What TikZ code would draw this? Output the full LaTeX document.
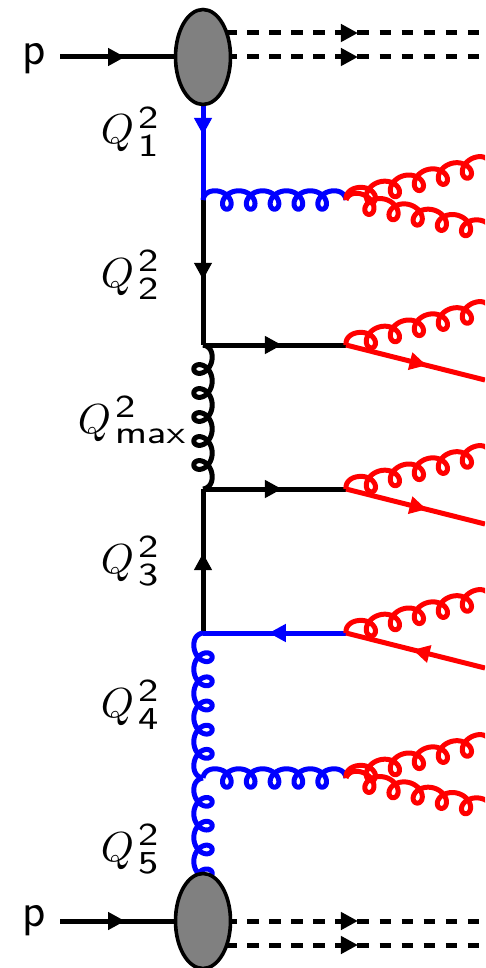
\documentclass[tikz,border=0pt]{standalone}
\usetikzlibrary{arrows.meta,calc,decorations.markings,shapes.geometric}
\DeclareMathSizes{10}{10}{8}{6}
\pgfdeclarelayer{front}
\pgfsetlayers{main,front}
\newcommand\qs[1]{\mbox{\kern1pt\scalebox{1.13}[0.95]{$\scriptstyle\mathsf{#1}$}}}
\newcommand\gluon[4][black]{%
  \pgfpointdiff{\pgfpointanchor{#2}{center}}{\pgfpointanchor{#3}{center}}%
  \pgfgetlastxy\gx\gy
  \pgfmathsetmacro\gL{veclen(\gx,\gy)}%
  \pgfmathsetmacro\gR{atan2(\gy,\gx)}%
  \pgfmathsetmacro\gs{\gL/#4}%
  \pgfmathsetmacro\gEnd{360*#4-90}%
  \pgfmathsetmacro\gN{int(40*#4)}%
  \begin{scope}[shift={(#2.center)},rotate=\gR]
    \draw[wire,#1] plot[domain=90:\gEnd,samples=\gN] ({\gs*(\x/360)-\gs*(0.4-0.15*(max(0,1-(\x-90)/90)+max(0,1-(\gEnd-\x)/90)))*sin(\x)},{9.2*cos(\x)});
  \end{scope}}
\tikzset{
  wire/.style={line width=5pt,line join=round},
  fine/.style={line width=5pt},
  dashline/.style={line width=5pt,dash pattern=on 11.5pt off 10.57pt},
  arrowat/.style={postaction={decorate},decoration={markings,mark=at position #1 with {\arrow{Triangle[length=17pt,width=17pt]}}}},
  blob/.style={ellipse,draw=black,fill=gray,line width=3.6pt,minimum width=55pt,minimum height=95pt,inner sep=0pt},
  qlabel/.style={anchor=base west,inner sep=0pt,scale=4.2},
  plabel/.style={anchor=base west,inner sep=0pt,font=\fontsize{48}{56}\selectfont\sffamily}
}
\begin{document}
\begin{tikzpicture}[x=1pt,y=-1pt]
\useasboundingbox (0,0) rectangle (485,968);
\clip (0,0) rectangle (485,968);
% blobs
\begin{pgfonlayer}{front}
\node[blob] (top) at (203,57) {};
\node[blob] (bot) at (203,921) {};
\end{pgfonlayer}
% vertices
\coordinate (v1) at (203,200);
\coordinate (v2) at (203,345);
\coordinate (v3) at (203,489);
\coordinate (v4) at (203,633);
\coordinate (v5) at (203,778);
\coordinate (w1) at (346,200);
\coordinate (w2) at (346,345);
\coordinate (w3) at (346,489);
\coordinate (w4) at (346,633);
\coordinate (w5) at (346,778);
% free ends
\coordinate (pa) at (60,57);
\coordinate (pb) at (60,921);
\coordinate (ta) at (203,33);
\coordinate (tb) at (490,33);
\coordinate (tc) at (490,57);
\coordinate (ba) at (203,945);
\coordinate (bb) at (490,945);
\coordinate (bc) at (490,921);
\coordinate (r1a) at (490,163);
\coordinate (r1b) at (491,232);
\coordinate (r2a) at (490,308);
\coordinate (r2b) at (485,380);
\coordinate (r3a) at (490,452);
\coordinate (r3b) at (485,524);
\coordinate (r4a) at (490,596);
\coordinate (r4b) at (485,668);
\coordinate (r5a) at (490,741);
\coordinate (r5b) at (491,810);
% labels
\node[plabel] (lp1) at (22,65) {p};
\node[plabel] (lp2) at (22,926) {p};
\node[qlabel] (q1) at (100,144) {$Q_{\qs{1}}^{\qs{2}}$};
\node[qlabel] (q2) at (100,287) {$Q_{\qs{2}}^{\qs{2}}$};
\node[qlabel] (qm) at (77,433) {$Q_{\qs{max}}^{\qs{2}}$};
\node[qlabel] (q3) at (100,573) {$Q_{\qs{3}}^{\qs{2}}$};
\node[qlabel] (q4) at (100,717) {$Q_{\qs{4}}^{\qs{2}}$};
\node[qlabel] (q5) at (100,861) {$Q_{\qs{5}}^{\qs{2}}$};
% incoming protons
\draw[fine,arrowat=0.455] (pa) -- (top.center);
\draw[fine,arrowat=0.455] (pb) -- (bot.center);
% spectators
\draw[dashline,arrowat=0.54] (ta) -- (tb);
\draw[dashline,arrowat=0.54] (top.center) -- (tc);
\draw[dashline,arrowat=0.54] (bot.center) -- (bc);
\draw[dashline,arrowat=0.54] (ba) -- (bb);
% ladder
\draw[fine,blue,arrowat=0.545] (top.center) -- (v1);
\draw[fine,arrowat=0.55] (v1) -- (v2);
\gluon[black]{v2}{v3}{6}
\draw[fine,arrowat=0.555] (v4) -- (v3);
\gluon[blue]{v5}{v4}{6}
\gluon[blue]{bot}{v5}{6}
% rungs
\gluon[blue]{v1}{w1}{6}
\draw[fine,arrowat=0.552] (v2) -- (w2);
\draw[fine,arrowat=0.552] (v3) -- (w3);
\draw[fine,blue,arrowat=0.54] (w4) -- (v4);
\gluon[blue]{v5}{w5}{6}
% red radiation
\gluon[red]{w1}{r1a}{6}
\gluon[red]{w1}{r1b}{6}
\gluon[red]{w2}{r2a}{6}
\draw[fine,red,arrowat=0.58] (w2) -- (r2b);
\gluon[red]{w3}{r3a}{6}
\draw[fine,red,arrowat=0.58] (w3) -- (r3b);
\gluon[red]{w4}{r4a}{6}
\draw[fine,red,arrowat=0.52] (r4b) -- (w4);
\gluon[red]{w5}{r5a}{6}
\gluon[red]{w5}{r5b}{6}
\end{tikzpicture}
\end{document}
